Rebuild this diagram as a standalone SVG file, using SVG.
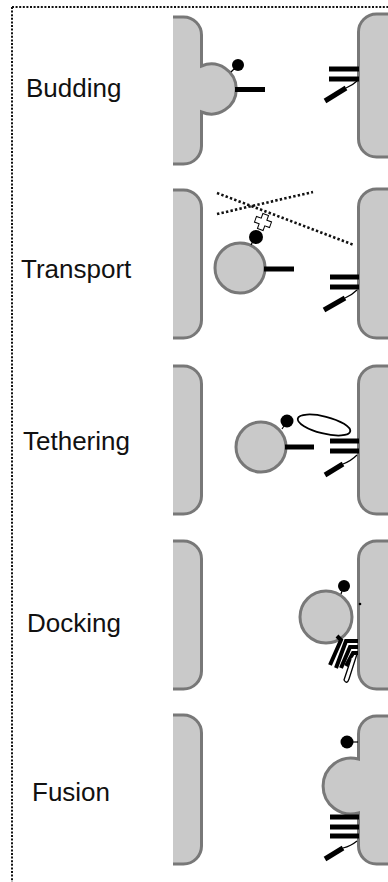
<svg xmlns="http://www.w3.org/2000/svg" width="388" height="882" viewBox="0 0 388 882">
  <style>
    .frame { fill: none; stroke: #111; stroke-width: 2; stroke-dasharray: 2 1.6; }
    .label { font-family: "Liberation Sans", Arial, sans-serif; font-size: 26px; fill: #111; }
    .membrane { fill: #c9c9c9; stroke: #787878; stroke-width: 3; }
    .vesicle { fill: #c9c9c9; stroke: #787878; stroke-width: 3; }
    .bar { stroke: #000; stroke-width: 5; fill: none; }
    .bar4 { stroke: #000; stroke-width: 4; fill: none; stroke-linejoin: miter; }
    .thin { stroke: #000; stroke-width: 1.2; fill: none; }
    .dot { fill: #000; }
    .track { stroke: #111; stroke-width: 2.6; stroke-dasharray: 2.4 2.2; fill: none; }
  </style>
  <rect width="388" height="882" fill="#fff"/>

  <!-- dotted frame (top and left edges) -->
  <path class="frame" d="M12,7 H388 M12,7 V882"/>

  <!-- ===== Budding ===== -->
  <g id="budding">
    <text class="label" x="26" y="97">Budding</text>
    <path class="membrane" d="M173,17 H183.5 A18,18 0 0 1 201.5,35 V66 A25,25 0 1 1 201.5,112 V146 A18,18 0 0 1 183.5,164 H173"/>
    <path class="membrane" d="M392,14 H376.5 A18,18 0 0 0 358.5,32 V139 A18,18 0 0 0 376.5,157 H392"/>
    <line class="thin" x1="231" y1="72" x2="235" y2="68"/>
    <circle class="dot" cx="238" cy="65" r="6"/>
    <line class="bar" x1="235" y1="89.5" x2="265" y2="89.5"/>
    <line class="bar" x1="329" y1="69" x2="359" y2="69"/>
    <line class="bar" x1="329" y1="79" x2="359" y2="79"/>
    <line class="bar" x1="325" y1="101" x2="346" y2="88"/>
    <path class="thin" d="M346,88 Q353,85 357,81"/>
  </g>

  <!-- ===== Transport ===== -->
  <g id="transport">
    <text class="label" x="21" y="278">Transport</text>
    <path class="membrane" d="M173,190 H183.5 A18,18 0 0 1 201.5,208 V320 A18,18 0 0 1 183.5,338 H173"/>
    <path class="membrane" d="M392,189 H376.5 A18,18 0 0 0 358.5,207 V320 A18,18 0 0 0 376.5,338 H392"/>
    <line class="track" x1="217" y1="193" x2="354" y2="245"/>
    <line class="track" x1="217" y1="214" x2="313" y2="192"/>
    <path fill="#fff" stroke="#000" stroke-width="1" transform="translate(263,222) rotate(20)" d="M-3,-8 H3 V-3 H8 V3 H3 V8 H-3 V3 H-8 V-3 H-3 Z"/>
    <circle class="vesicle" cx="240" cy="268" r="25"/>
    <line class="thin" x1="251" y1="245" x2="253" y2="241"/>
    <circle class="dot" cx="256" cy="237" r="7"/>
    <line class="bar" x1="264" y1="269" x2="294" y2="269"/>
    <line class="bar" x1="330" y1="277" x2="359" y2="277"/>
    <line class="bar" x1="330" y1="287" x2="359" y2="287"/>
    <line class="bar" x1="324" y1="310" x2="345" y2="298"/>
    <path class="thin" d="M345,298 Q352,295 357,290"/>
  </g>

  <!-- ===== Tethering ===== -->
  <g id="tethering">
    <text class="label" x="23" y="450">Tethering</text>
    <path class="membrane" d="M173,366 H183.5 A18,18 0 0 1 201.5,384 V496 A18,18 0 0 1 183.5,514 H173"/>
    <path class="membrane" d="M392,366 H376.5 A18,18 0 0 0 358.5,384 V496 A18,18 0 0 0 376.5,514 H392"/>
    <circle class="vesicle" cx="261" cy="447" r="25"/>
    <line class="thin" x1="282" y1="429" x2="284" y2="426"/>
    <circle class="dot" cx="287" cy="421" r="6.5"/>
    <ellipse cx="324" cy="425" rx="27" ry="8.5" transform="rotate(14 324 425)" fill="none" stroke="#000" stroke-width="1.8"/>
    <line class="bar" x1="285" y1="447" x2="314" y2="447"/>
    <line class="bar" x1="330" y1="441" x2="359" y2="441"/>
    <line class="bar" x1="330" y1="451" x2="359" y2="451"/>
    <line class="bar" x1="325" y1="475" x2="343" y2="464"/>
    <path class="thin" d="M343,464 Q351,461 357,455"/>
  </g>

  <!-- ===== Docking ===== -->
  <g id="docking">
    <text class="label" x="27" y="632">Docking</text>
    <path class="membrane" d="M173,541 H183.5 A18,18 0 0 1 201.5,559 V671 A18,18 0 0 1 183.5,689 H173"/>
    <path class="membrane" d="M392,541 H376.5 A18,18 0 0 0 358.5,559 V671 A18,18 0 0 0 376.5,689 H392"/>
    <circle class="vesicle" cx="326" cy="617" r="26"/>
    <line class="thin" x1="341" y1="594" x2="342" y2="591"/>
    <circle class="dot" cx="344" cy="586" r="6"/>
    <circle class="dot" cx="360" cy="604" r="1.3"/>
    <!-- zippered SNARE bundle -->
    <path class="bar4" d="M337,636 L341,640 L330,665"/>
    <path class="bar4" d="M358,641 L346,641 L336,668"/>
    <path class="bar4" d="M358,647 L350,647 L341,668"/>
    <path class="bar4" d="M358,653 L353,653 L346,666"/>
    <path fill="#fff" stroke="#000" stroke-width="1.3" d="M357,654 L349,679 Q347,685 344,680 L351,659"/>
  </g>

  <!-- ===== Fusion ===== -->
  <g id="fusion">
    <text class="label" x="32" y="801">Fusion</text>
    <path class="membrane" d="M173,715 H183.5 A18,18 0 0 1 201.5,733 V846 A18,18 0 0 1 183.5,864 H173"/>
    <path class="membrane" d="M392,716 H376.5 A18,18 0 0 0 358.5,734 V759 A28,28 0 1 0 358.5,813 V846 A18,18 0 0 0 376.5,864 H392"/>
    <line class="thin" x1="352" y1="742" x2="358" y2="742"/>
    <circle class="dot" cx="347" cy="742" r="6.5"/>
    <line class="bar" x1="330" y1="817" x2="359" y2="817"/>
    <line class="bar" x1="330" y1="827" x2="359" y2="827"/>
    <line class="bar" x1="330" y1="836" x2="359" y2="836"/>
    <line class="bar" x1="325" y1="859" x2="343" y2="848"/>
    <path class="thin" d="M343,848 Q351,846 357,841"/>
  </g>
</svg>
